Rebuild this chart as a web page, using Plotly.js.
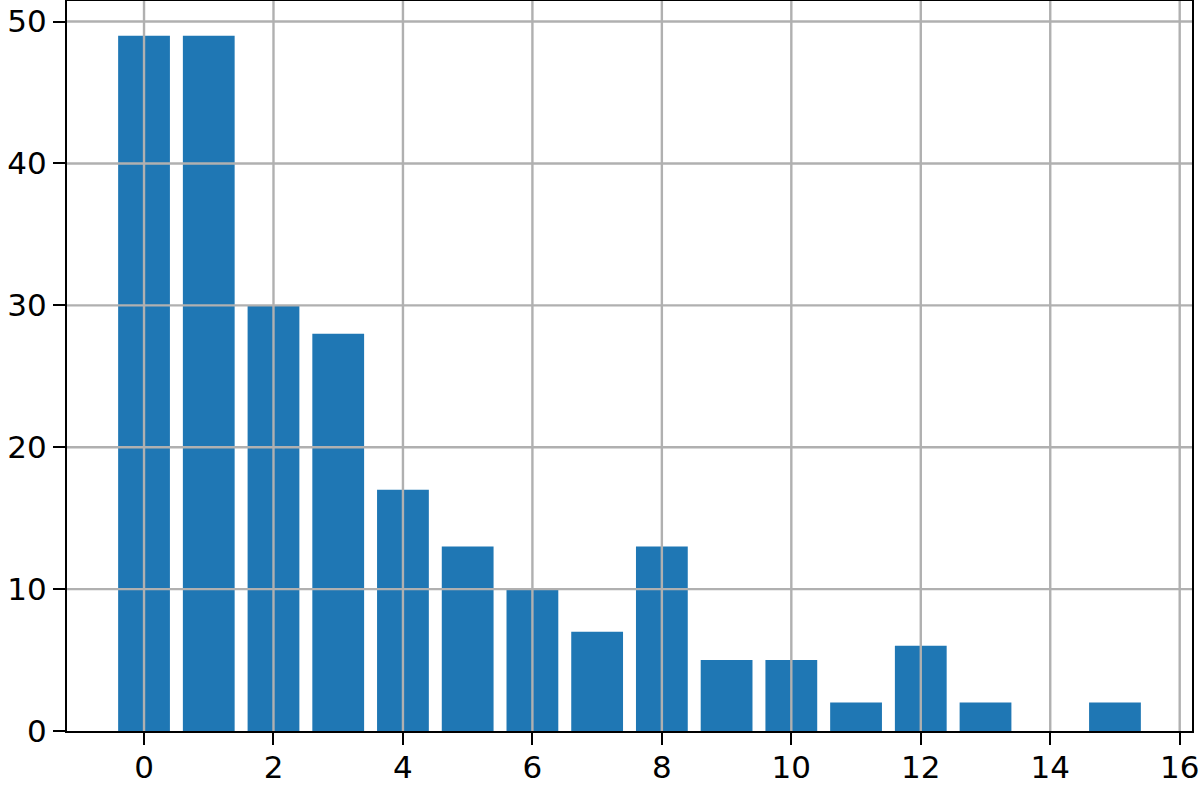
<!DOCTYPE html>
<html>
<head>
<meta charset="utf-8">
<script src="https://cdn.plot.ly/plotly-3.0.1.min.js"></script>
<style>
  html, body { margin: 0; padding: 0; background: #fff; }
  #chart { width: 1200px; height: 786px; }
</style>
</head>
<body>
<div id="chart"></div>
<script>
var categories = [0, 1, 2, 3, 4, 5, 6, 7, 8, 9, 10, 11, 12, 13, 14, 15];
var counts = [49, 49, 30, 28, 17, 13, 10, 7, 13, 5, 5, 2, 6, 2, 0, 2];
var xTicks = [0, 2, 4, 6, 8, 10, 12, 14, 16];
var yTicks = [0, 10, 20, 30, 40, 50];

// matplotlib draws the grid over the bars, so grid lines go in as shapes
var gridColor = '#b0b0b0';
var shapes = [];
xTicks.forEach(function (t) {
    shapes.push({type: 'line', layer: 'above', xref: 'x', yref: 'paper',
        x0: t, x1: t, y0: 0, y1: 1, line: {color: gridColor, width: 2.4}});
});
yTicks.forEach(function (t) {
    if (t === 0) return;
    shapes.push({type: 'line', layer: 'above', xref: 'paper', yref: 'y',
        x0: 0, x1: 1, y0: t, y1: t, line: {color: gridColor, width: 2.4}});
});

var bars = {
    x: categories,
    y: counts,
    type: 'bar',
    width: 0.8,
    marker: {color: '#1f77b4', line: {width: 0}},
    hoverinfo: 'x+y'
};

var tickFont = {family: 'DejaVu Sans', size: 31, color: '#000'};

var layout = {
    width: 1200,
    height: 786,
    margin: {l: 67, r: 8, t: 1, b: 55},
    paper_bgcolor: '#fff',
    plot_bgcolor: '#fff',
    showlegend: false,
    shapes: shapes,
    xaxis: {
        range: [-1.19, 16.19],
        tickvals: xTicks,
        ticktext: xTicks.map(String),
        showgrid: false,
        zeroline: false,
        showline: true,
        mirror: true,
        linecolor: '#000',
        linewidth: 2,
        ticks: 'outside',
        ticklen: 12,
        tickwidth: 2,
        tickcolor: '#000',
        tickfont: tickFont,
        ticklabelstandoff: -4,
        layer: 'above traces'
    },
    yaxis: {
        range: [0, 51.45],
        tickvals: yTicks,
        ticktext: yTicks.map(String),
        showgrid: false,
        zeroline: false,
        showline: true,
        mirror: true,
        linecolor: '#000',
        linewidth: 2,
        ticks: 'outside',
        ticklen: 12,
        tickwidth: 2,
        tickcolor: '#000',
        tickfont: tickFont,
        layer: 'above traces'
    }
};

Plotly.newPlot('chart', [bars], layout, {displayModeBar: false, staticPlot: true});
</script>
</body>
</html>
